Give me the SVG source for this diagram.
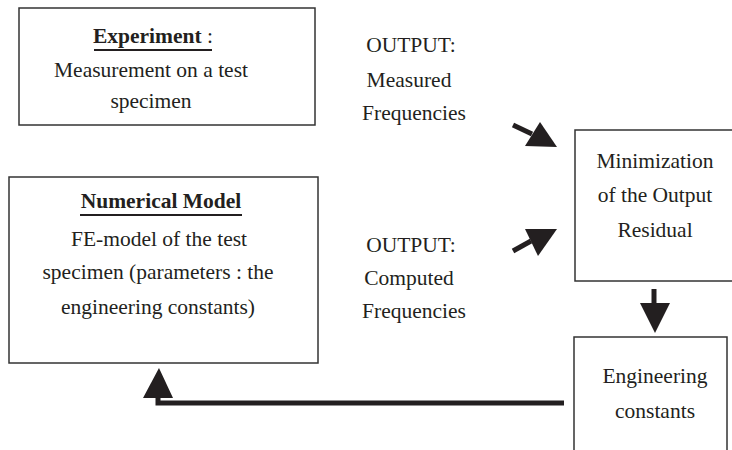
<svg xmlns="http://www.w3.org/2000/svg" width="732" height="450" viewBox="0 0 732 450">
<style>
.box{fill:#fff;stroke:#333;stroke-width:1.5}
text{font-family:"Liberation Serif","Times New Roman",serif;font-size:21.5px;fill:#231f20;text-anchor:middle}
.b{font-weight:bold}
.ul{stroke:#231f20;stroke-width:2}
.shaft{fill:none;stroke:#231f20;stroke-width:5}
.head{fill:#231f20}
</style>
<rect width="732" height="450" fill="#fff"/>
<g id="experiment">
<rect class="box" x="19" y="8" width="296" height="117"/>
<text x="153" y="43"><tspan class="b">Experiment</tspan> :</text>
<line class="ul" x1="94" y1="50" x2="212" y2="50"/>
<text x="151" y="77">Measurement on a test</text>
<text x="151" y="108">specimen</text>
</g>
<g id="numerical-model">
<rect class="box" x="9" y="177" width="309" height="186"/>
<text class="b" x="161" y="208">Numerical Model</text>
<line class="ul" x1="80" y1="215" x2="242" y2="215"/>
<text x="159" y="246">FE-model of the test</text>
<text x="158" y="279">specimen (parameters : the</text>
<text x="158" y="314">engineering constants)</text>
</g>
<g id="minimization">
<rect class="box" x="575" y="130" width="170" height="151"/>
<text x="655" y="168">Minimization</text>
<text x="655" y="202">of the Output</text>
<text x="655" y="237">Residual</text>
</g>
<g id="engineering-constants">
<rect class="box" x="574" y="337" width="153" height="130"/>
<text x="655" y="383">Engineering</text>
<text x="655" y="418">constants</text>
</g>
<g id="output-measured">
<text x="411" y="52">OUTPUT:</text>
<text x="409" y="87">Measured</text>
<text x="414" y="120">Frequencies</text>
</g>
<g id="output-computed">
<text x="411" y="252">OUTPUT:</text>
<text x="409" y="285">Computed</text>
<text x="414" y="318">Frequencies</text>
</g>
<g id="connectors">
<line class="shaft" x1="513" y1="125" x2="532" y2="134"/>
<polygon class="head" points="540,122 557,147 525,146"/>
<line class="shaft" x1="513" y1="251" x2="531" y2="241"/>
<polygon class="head" points="525,229 557,229 538,256"/>
<line class="shaft" x1="654" y1="289" x2="654" y2="304"/>
<polygon class="head" points="640,303 670,303 655,333"/>
<path class="shaft" d="M564,403 H158 V397"/>
<polygon class="head" points="159,368 173,398 143,398"/>
</g>
</svg>
